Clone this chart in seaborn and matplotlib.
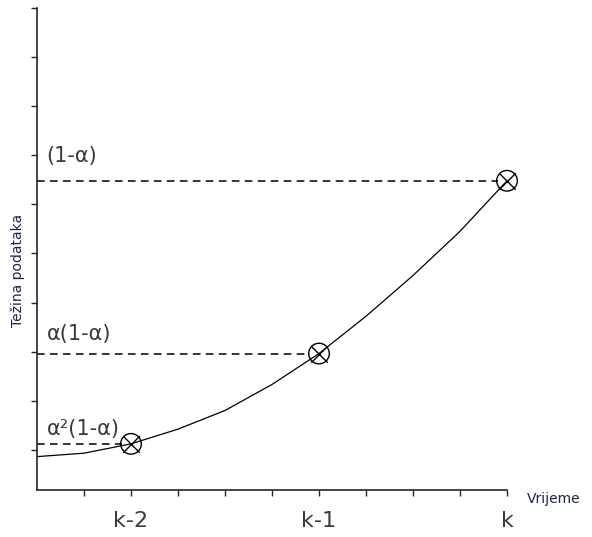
import pandas as pd
import matplotlib.pyplot as plt
import seaborn as sns

sns.set_style('ticks')
plt.rcParams['font.family'] = ['DejaVu Sans']

# Curve (x: k-2 = 0, k-1 = 1, k = 2)
curve_x = [-0.5, -0.25, 0.0, 0.25, 0.5, 0.75, 1.0, 1.25, 1.5, 1.75, 2.0]
curve_y = [-0.14, -0.07, 0.12, 0.42, 0.80, 1.33, 1.96, 2.72, 3.55, 4.45, 5.48]

# Marked points and their labels
point_x = [0, 1, 2]
point_y = [0.12, 1.96, 5.48]
point_labels = ['α²(1-α)', 'α(1-α)', '(1-α)']
label_y = [0.43, 2.35, 5.98]

tick_pos = [0, 1, 2]
tick_labels = ['k-2', 'k-1', 'k']

curve = pd.DataFrame({'x': curve_x, 'y': curve_y})
points = pd.DataFrame({'x': point_x, 'y': point_y})

fig = plt.figure(figsize=(5.92, 5.37), dpi=100)
ax = fig.add_axes([37 / 592, 47 / 537, 470 / 592, 482 / 537])

sns.lineplot(data=curve, x='x', y='y', sort=False, estimator=None,
             color='black', linewidth=0.9, ax=ax)

# Dashed guides from the y axis to each point
for px, py in zip(point_x, point_y):
    ax.plot([-0.5, px - 0.05], [py, py], color='black', linewidth=1.1,
            linestyle=(0, (5, 3.5)))

# Circle-with-cross markers
sns.scatterplot(data=points, x='x', y='y', marker='o', s=220,
                facecolor='none', edgecolor='black', linewidth=1.0,
                ax=ax, zorder=5, clip_on=False)
sns.scatterplot(data=points, x='x', y='y', marker='x', s=140,
                color='black', linewidth=1.0, ax=ax, zorder=6, clip_on=False)

for ly, txt in zip(label_y, point_labels):
    ax.text(-0.45, ly, txt, fontsize=15, color='#3a3a3a',
            ha='left', va='center')

ax.set_xlim(-0.5, 2)
ax.set_ylim(-0.82, 9)
ax.set_xticks(tick_pos)
ax.set_xticklabels(tick_labels, fontsize=16, color='#3a3a3a')
ax.set_xticks([-0.25, 0.25, 0.5, 0.75, 1.25, 1.5, 1.75], minor=True)
ax.set_yticks(range(0, 10))
ax.set_yticklabels([])
ax.tick_params(axis='x', which='both', direction='out', length=4,
               width=1, pad=11)
ax.tick_params(axis='y', direction='out', length=4, width=1)
ax.set_xlabel('')
ax.set_ylabel('')
sns.despine(ax=ax)
for s in ['left', 'bottom']:
    ax.spines[s].set_linewidth(1.2)

fig.text(527 / 592, 1 - 499 / 537, 'Vrijeme', fontsize=10,
         color='#1c2450', ha='left', va='center')
fig.text(18 / 592, 1 - 270 / 537, 'Težina podataka', fontsize=10,
         color='#1c2450', ha='center', va='center', rotation=90)

plt.savefig('out.png', dpi=100)
